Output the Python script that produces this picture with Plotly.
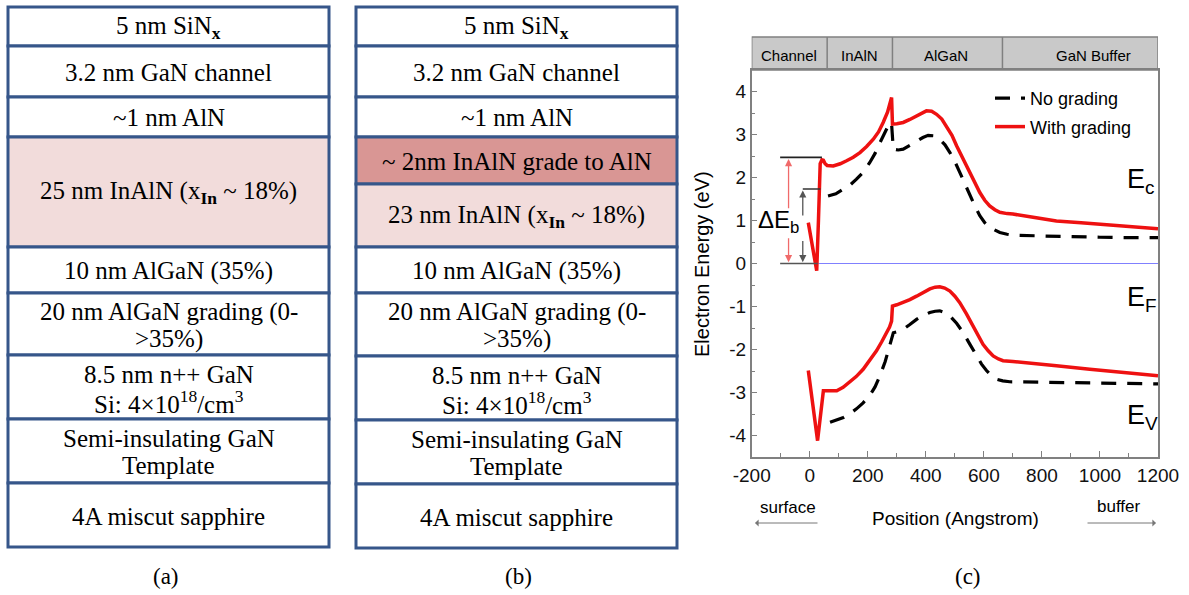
import plotly.graph_objects as go

W, H = 1189, 595

# ---------------- data ----------------
layers_a = ["5 nm SiN<sub><b>x</b></sub>", "3.2 nm GaN channel", "~1 nm AlN",
            "25 nm InAlN (x<sub><b>In</b></sub> ~ 18%)", "10 nm AlGaN (35%)",
            "20 nm AlGaN grading (0-<br>>35%)", "8.5 nm n++ GaN<br>Si: 4×10<sup>18</sup>/cm<sup>3</sup>",
            "Semi-insulating GaN<br>Template", "4A miscut sapphire"]
layers_b = ["5 nm SiN<sub><b>x</b></sub>", "3.2 nm GaN channel", "~1 nm AlN",
            "~ 2nm InAlN grade to AlN", "23 nm InAlN (x<sub><b>In</b></sub> ~ 18%)",
            "10 nm AlGaN (35%)", "20 nm AlGaN grading (0-<br>>35%)",
            "8.5 nm n++ GaN<br>Si: 4×10<sup>18</sup>/cm<sup>3</sup>",
            "Semi-insulating GaN<br>Template", "4A miscut sapphire"]

region_names = ["Channel", "InAlN", "AlGaN", "GaN Buffer"]
region_edges = [-200, 60, 285, 664, 1200]

x_tickvals = [-200, 0, 200, 400, 600, 800, 1000, 1200]
x_ticktext = ["-200", "0", "200", "400", "600", "800", "1000", "1200"]
y_tickvals = [-4, -3, -2, -1, 0, 1, 2, 3, 4]
y_ticktext = ["-4", "-3", "-2", "-1", "0", "1", "2", "3", "4"]

ec_nograd_x = [63, 90, 116, 140, 161, 185, 207, 225, 242, 260, 276, 282, 288, 305, 322, 345, 368, 390,
               408, 428, 448, 466, 483, 500, 517, 535, 552, 570, 586, 603, 620, 638, 655, 680, 700,
               800, 900, 1000, 1100, 1200]
ec_nograd_y = [1.57, 1.62, 1.73, 1.83, 1.96, 2.13, 2.35, 2.56, 2.81, 3.05, 3.28, 3.25, 2.66, 2.64, 2.66,
               2.75, 2.85, 2.93, 2.98, 2.97, 2.89, 2.76, 2.58, 2.37, 2.12, 1.85, 1.57, 1.32, 1.11, 0.95,
               0.84, 0.77, 0.72, 0.68, 0.66, 0.64, 0.62, 0.61, 0.60, 0.60]

ec_grad_x = [-5, 24, 30, 36, 42, 47, 53, 60, 81, 105, 127, 150, 173, 196, 219, 237, 253, 268, 282, 285,
             300, 322, 345, 368, 385, 402, 420, 437, 455, 471, 490, 506, 530, 552, 570, 586, 603, 620,
             638, 655, 680, 700, 775, 850, 935, 1022, 1110, 1200]
ec_grad_y = [0.95, -0.17, 1.0, 2.32, 2.41, 2.40, 2.32, 2.28, 2.27, 2.32, 2.39, 2.47, 2.58, 2.72, 2.89,
             3.06, 3.28, 3.52, 3.86, 3.24, 3.25, 3.28, 3.35, 3.43, 3.50, 3.55, 3.54, 3.47, 3.36, 3.20,
             2.98, 2.74, 2.42, 2.12, 1.87, 1.65, 1.47, 1.34, 1.25, 1.19, 1.16, 1.15, 1.07, 0.99, 0.95,
             0.91, 0.86, 0.81]

ev_nograd_x = [70, 93, 116, 139, 161, 184, 207, 225, 242, 260, 276, 288, 305, 322, 345, 368, 390, 414,
               432, 448, 466, 483, 506, 529, 552, 575, 592, 609, 626, 643, 665, 689, 770, 850, 950,
               1050, 1200]
ev_nograd_y = [-3.69, -3.64, -3.58, -3.49, -3.38, -3.24, -3.07, -2.87, -2.61, -2.28, -1.92, -1.61, -1.58,
               -1.53, -1.42, -1.30, -1.21, -1.14, -1.11, -1.10, -1.14, -1.22, -1.39, -1.61, -1.88,
               -2.15, -2.34, -2.49, -2.61, -2.69, -2.73, -2.75, -2.76, -2.76, -2.77, -2.79, -2.80]

ev_grad_x = [-5, 27, 47, 58, 75, 93, 115, 139, 160, 184, 207, 230, 248, 265, 275, 282, 285, 300, 322,
             345, 368, 390, 414, 432, 448, 465, 483, 500, 517, 540, 563, 580, 597, 615, 632, 650, 666,
             700, 735, 850, 965, 1080, 1200]
ev_grad_y = [-2.49, -4.12, -2.96, -2.96, -2.97, -2.96, -2.88, -2.76, -2.63, -2.46, -2.26, -2.03, -1.82,
             -1.61, -1.48, -1.34, -0.99, -0.96, -0.91, -0.84, -0.76, -0.67, -0.59, -0.55, -0.54, -0.57,
             -0.64, -0.76, -0.91, -1.17, -1.45, -1.67, -1.88, -2.03, -2.15, -2.22, -2.26, -2.28,
             -2.30, -2.38, -2.46, -2.53, -2.61]

# ---------------- layout helpers ----------------
def px(x):
    return x / W

def py(y):
    return 1 - y / H

SERIF = "Liberation Serif"
SANS = "Liberation Sans"
BORDER = "#36568a"
PINK = "#f2dcdb"
DPINK = "#d99694"

# row boundaries (pixel y) for stacks
rows_a = [7, 46, 97, 137, 247, 293, 355, 419, 483, 547]
rows_b = [7, 46, 97, 137, 184, 247, 293, 356, 420, 484, 548]
fills_a = ["white", "white", "white", PINK, "white", "white", "white", "white", "white"]
fills_b = ["white", "white", "white", DPINK, PINK, "white", "white", "white", "white", "white"]

shapes = []
annotations = []
LINE_GAP = 27

def stack(x0, x1, rows, labels, fills):
    for i, lab in enumerate(labels):
        y0, y1 = rows[i], rows[i + 1]
        shapes.append(dict(type="rect", xref="paper", yref="paper", x0=px(x0), x1=px(x1),
                           y0=py(y1), y1=py(y0), fillcolor=fills[i],
                           line=dict(color=BORDER, width=3), layer="below"))
        parts = lab.split("<br>")
        n = len(parts)
        yc = (y0 + y1) / 2 + 1
        for j, part in enumerate(parts):
            yy = yc + (j - (n - 1) / 2) * LINE_GAP
            annotations.append(dict(xref="paper", yref="paper", x=px((x0 + x1) / 2), y=py(yy),
                                    text=part, showarrow=False, align="center",
                                    font=dict(family=SERIF, size=25, color="black"),
                                    xanchor="center", yanchor="middle"))

stack(8, 329, rows_a, layers_a, fills_a)
stack(356, 677, rows_b, layers_b, fills_b)

for lab, xx in [("(a)", 166), ("(b)", 518), ("(c)", 968)]:
    annotations.append(dict(xref="paper", yref="paper", x=px(xx), y=py(576), text=lab, showarrow=False,
                            font=dict(family=SERIF, size=23, color="black"),
                            xanchor="center", yanchor="middle"))

# ---------------- plot (c) ----------------
DASH = "15px,11px"
fig = go.Figure()
fig.add_trace(go.Scatter(x=ec_nograd_x, y=ec_nograd_y, mode="lines", name="No grading",
                         legendgroup="ng", line=dict(color="black", width=3.2, dash=DASH)))
fig.add_trace(go.Scatter(x=ec_grad_x, y=ec_grad_y, mode="lines", name="With grading",
                         legendgroup="g", line=dict(color="#ee1111", width=3.5)))
fig.add_trace(go.Scatter(x=ev_nograd_x, y=ev_nograd_y, mode="lines", name="No grading",
                         legendgroup="ng", showlegend=False,
                         line=dict(color="black", width=3.2, dash=DASH)))
fig.add_trace(go.Scatter(x=ev_grad_x, y=ev_grad_y, mode="lines", name="With grading",
                         legendgroup="g", showlegend=False, line=dict(color="#ee1111", width=3.5)))

plot_top, plot_bot = 70, 457
band_top = 37

# header band
shapes.append(dict(type="rect", xref="x", yref="paper", x0=region_edges[0], x1=region_edges[-1],
                   y0=py(plot_top), y1=py(band_top), fillcolor="#c9c9c9",
                   line=dict(color="#808080", width=1.5), layer="below"))
for e in region_edges[1:-1]:
    shapes.append(dict(type="line", xref="x", yref="paper", x0=e, x1=e, y0=py(plot_top), y1=py(band_top),
                       line=dict(color="#808080", width=1.5)))
label_x = [-71, 170, 470, 977]
for name, lx in zip(region_names, label_x):
    annotations.append(dict(xref="x", yref="paper", x=lx, y=py(55), text=name, showarrow=False,
                            font=dict(family=SANS, size=15, color="black"),
                            xanchor="center", yanchor="middle"))

# Fermi level line
shapes.append(dict(type="line", xref="x", yref="y", x0=30, x1=1200, y0=0, y1=0,
                   line=dict(color="#8080ff", width=1.2), layer="below"))
# Delta E_b construction
shapes.append(dict(type="line", xref="x", yref="y", x0=-102, x1=42, y0=2.47, y1=2.47,
                   line=dict(color="#222222", width=1.8)))
shapes.append(dict(type="line", xref="x", yref="y", x0=-102, x1=28, y0=0, y1=0,
                   line=dict(color="#555555", width=1.5)))
shapes.append(dict(type="line", xref="x", yref="y", x0=-24, x1=37, y0=1.73, y1=1.73,
                   line=dict(color="#333333", width=1.5)))

def arrow(x, y_head, y_tail, color):
    annotations.append(dict(xref="x", yref="y", axref="x", ayref="y", x=x, y=y_head, ax=x, ay=y_tail,
                            text="", showarrow=True, arrowhead=2, arrowsize=1.1, arrowwidth=1.3,
                            arrowcolor=color))

arrow(-73, 2.43, 1.25, "#f06a6a")
arrow(-73, 0.03, 0.62, "#f06a6a")
arrow(-24, 1.70, 1.08, "#555555")
arrow(-24, 0.03, 0.56, "#555555")

annotations.append(dict(xref="x", yref="y", x=-108, y=0.98, text="ΔE<sub>b</sub>", showarrow=False,
                        font=dict(family=SANS, size=24, color="black"), xanchor="center",
                        yanchor="middle"))

for txt, yy in [("E<sub>c</sub>", 181), ("E<sub>F</sub>", 299), ("E<sub>V</sub>", 417)]:
    annotations.append(dict(xref="paper", yref="paper", x=px(1125), y=py(yy), text=txt, showarrow=False,
                            font=dict(family=SANS, size=27, color="black"), xanchor="left",
                            yanchor="middle"))

# axis titles and direction hints
annotations.append(dict(xref="paper", yref="paper", x=px(702), y=py(264), text="Electron Energy (eV)",
                        textangle=-90, showarrow=False, font=dict(family=SANS, size=20, color="black"),
                        xanchor="center", yanchor="middle"))
annotations.append(dict(xref="paper", yref="paper", x=px(955), y=py(518), text="Position (Angstrom)",
                        showarrow=False, font=dict(family=SANS, size=19, color="black"),
                        xanchor="center", yanchor="middle"))
annotations.append(dict(xref="paper", yref="paper", x=px(788), y=py(507), text="surface",
                        showarrow=False, font=dict(family=SANS, size=17, color="black"),
                        xanchor="center", yanchor="middle"))
annotations.append(dict(xref="paper", yref="paper", x=px(1119), y=py(506), text="buffer",
                        showarrow=False, font=dict(family=SANS, size=17, color="black"),
                        xanchor="center", yanchor="middle"))
annotations.append(dict(xref="paper", yref="paper", axref="pixel", ayref="pixel", x=px(755), y=py(523),
                        ax=64, ay=0, text="", showarrow=True, arrowhead=1, arrowsize=1.2,
                        arrowwidth=1, arrowcolor="#777777"))
annotations.append(dict(xref="paper", yref="paper", axref="pixel", ayref="pixel", x=px(1156), y=py(523),
                        ax=-70, ay=0, text="", showarrow=True, arrowhead=1, arrowsize=1.2,
                        arrowwidth=1, arrowcolor="#777777"))

fig.update_layout(
    width=W, height=H, autosize=False,
    margin=dict(l=0, r=0, t=0, b=0, autoexpand=False),
    paper_bgcolor="white", plot_bgcolor="white",
    shapes=shapes, annotations=annotations,
    legend=dict(x=px(990), y=py(80), xanchor="left", yanchor="top", bgcolor="rgba(0,0,0,0)",
                font=dict(family=SANS, size=18, color="black"), tracegroupgap=2),
    xaxis=dict(domain=[px(751.7), px(1158)], range=[-200, 1200],
               tickmode="array", tickvals=x_tickvals, ticktext=x_ticktext,
               automargin=False,
               showline=True, mirror=True, linecolor="#808080", linewidth=1.5,
               ticks="inside", ticklen=6, tickcolor="#808080",
               minor=dict(dtick=100, tick0=0, ticks="inside", ticklen=4, tickcolor="#808080"),
               showgrid=False, zeroline=False,
               tickfont=dict(family=SANS, size=19, color="#111111")),
    yaxis=dict(domain=[py(plot_bot), py(plot_top)], range=[-4.5, 4.5],
               tickmode="array", tickvals=y_tickvals, ticktext=y_ticktext,
               automargin=False,
               showline=True, mirror=True, linecolor="#808080", linewidth=1.5,
               ticks="inside", ticklen=6, tickcolor="#808080",
               minor=dict(dtick=0.5, tick0=0, ticks="inside", ticklen=4, tickcolor="#808080"),
               showgrid=False, zeroline=False,
               tickfont=dict(family=SANS, size=19, color="#111111")),
)

fig.write_html("out.html")
